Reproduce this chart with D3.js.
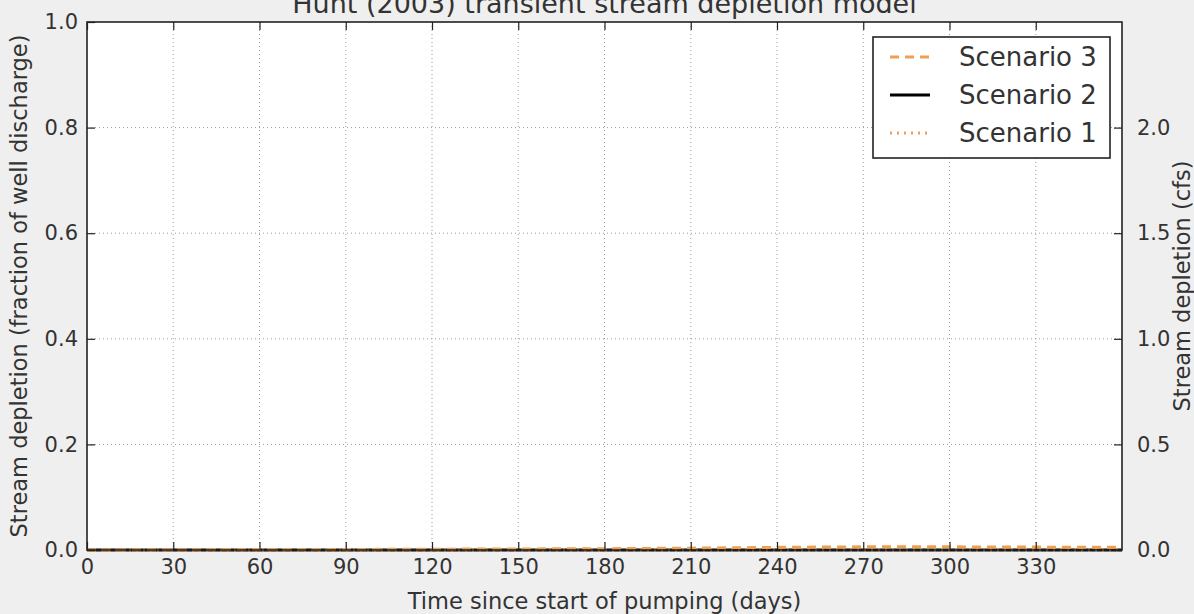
<!DOCTYPE html>
<html>
<head>
<meta charset="utf-8">
<script src="https://d3js.org/d3.v7.min.js"></script>
<style>
  body { margin: 0; background: #efefef; }
  svg { display: block; font-family: "DejaVu Sans", sans-serif; }
</style>
</head>
<body>
<div id="chart"></div>
<script>
// values (fraction of well discharge)
var days = [0, 30, 60, 90, 120, 150, 180, 210, 240, 270, 300, 330, 360];
var scenario1 = [0, 0, 0, 0, 0, 0, 0, 0, 0, 0, 0, 0, 0];
var scenario2 = [0, 0, 0, 0, 0, 0, 0, 0, 0, 0, 0, 0, 0];
var scenario3 = [0, 0.0005, 0.001, 0.001, 0.0015, 0.002, 0.0025, 0.0035, 0.005, 0.006, 0.006, 0.0055, 0.005];
var seriesNames = ["Scenario 3", "Scenario 2", "Scenario 1"];
var xTicks = [0, 30, 60, 90, 120, 150, 180, 210, 240, 270, 300, 330];
var yTicks = [0, 0.2, 0.4, 0.6, 0.8, 1.0];
var cfsTicks = [0, 0.5, 1.0, 1.5, 2.0];

var width = 1194, height = 614;
var plotLeft = 87, plotRight = 1122, plotTop = 22, plotBottom = 550;

var svg = d3.select("#chart").append("svg")
  .attr("width", width)
  .attr("height", height);

var x = d3.scaleLinear().domain([0, 360]).range([plotLeft, plotRight]);
var y = d3.scaleLinear().domain([0, 1]).range([plotBottom, plotTop]);
var y2 = d3.scaleLinear().domain([0, 2.5]).range([plotBottom, plotTop]);

// plot background
svg.append("rect")
  .attr("x", plotLeft).attr("y", plotTop)
  .attr("width", plotRight - plotLeft).attr("height", plotBottom - plotTop)
  .attr("fill", "#fff");

// grid
var grid = svg.append("g");
grid.selectAll("line.gx").data(xTicks.slice(1)).enter().append("line")
  .attr("x1", function(d) { return x(d); }).attr("x2", function(d) { return x(d); })
  .attr("y1", plotTop).attr("y2", plotBottom)
  .attr("stroke", "#9a9a9a").attr("stroke-width", 1).attr("stroke-dasharray", "1,3");
grid.selectAll("line.gy").data(yTicks.slice(1, -1)).enter().append("line")
  .attr("x1", plotLeft).attr("x2", plotRight)
  .attr("y1", function(d) { return y(d); }).attr("y2", function(d) { return y(d); })
  .attr("stroke", "#9a9a9a").attr("stroke-width", 1).attr("stroke-dasharray", "1,3");

// lines
var line = d3.line()
  .x(function(d, i) { return x(days[i]); })
  .y(function(d) { return y(d); });

var styles = {
  "Scenario 3": { data: scenario3, color: "#f0a050", dash: "9,6" },
  "Scenario 2": { data: scenario2, color: "#000", dash: null },
  "Scenario 1": { data: scenario1, color: "#f0a050", dash: "2,5" }
};

["Scenario 2", "Scenario 1", "Scenario 3"].forEach(function(name) {
  var s = styles[name];
  svg.append("path")
    .datum(s.data)
    .attr("d", line)
    .attr("fill", "none")
    .attr("stroke", s.color)
    .attr("stroke-width", 3)
    .attr("stroke-dasharray", s.dash);
});

// axes with inward ticks
function styleAxis(g) {
  g.select(".domain").remove();
  g.selectAll(".tick line").attr("stroke", "#222").attr("stroke-width", 1.2);
  g.selectAll(".tick text").attr("fill", "#333").attr("font-size", 21)
    .attr("font-family", "DejaVu Sans, sans-serif");
}

svg.append("g")
  .attr("transform", "translate(0," + plotBottom + ")")
  .call(d3.axisBottom(x).tickValues(xTicks).tickFormat(d3.format("d")).tickSize(-8).tickPadding(9))
  .call(styleAxis);

svg.append("g")
  .attr("transform", "translate(0," + plotTop + ")")
  .call(d3.axisTop(x).tickValues(xTicks).tickFormat("").tickSize(-8))
  .call(styleAxis);

svg.append("g")
  .attr("transform", "translate(" + plotLeft + ",0)")
  .call(d3.axisLeft(y).tickValues(yTicks).tickFormat(d3.format(".1f")).tickSize(-8).tickPadding(9))
  .call(styleAxis);

svg.append("g")
  .attr("transform", "translate(" + plotRight + ",0)")
  .call(d3.axisRight(y2).tickValues(cfsTicks).tickFormat(d3.format(".1f")).tickSize(-8).tickPadding(15))
  .call(styleAxis);

// frame
svg.append("rect")
  .attr("x", plotLeft).attr("y", plotTop)
  .attr("width", plotRight - plotLeft).attr("height", plotBottom - plotTop)
  .attr("fill", "none").attr("stroke", "#222").attr("stroke-width", 1.6);

// title and labels
svg.append("text")
  .attr("x", (plotLeft + plotRight) / 2).attr("y", 13)
  .attr("text-anchor", "middle").attr("font-size", 27).attr("fill", "#333")
  .text("Hunt (2003) transient stream depletion model");

svg.append("text")
  .attr("x", (plotLeft + plotRight) / 2).attr("y", 609)
  .attr("text-anchor", "middle").attr("font-size", 22.5).attr("fill", "#333")
  .text("Time since start of pumping (days)");

svg.append("text")
  .attr("transform", "translate(27," + ((plotTop + plotBottom) / 2) + ") rotate(-90)")
  .attr("text-anchor", "middle").attr("font-size", 22.5).attr("fill", "#333")
  .text("Stream depletion (fraction of well discharge)");

svg.append("text")
  .attr("transform", "translate(1190," + ((plotTop + plotBottom) / 2) + ") rotate(-90)")
  .attr("text-anchor", "middle").attr("font-size", 22.5).attr("fill", "#333")
  .text("Stream depletion (cfs)");

// legend
var legend = svg.append("g");
legend.append("rect")
  .attr("x", 873).attr("y", 37).attr("width", 237).attr("height", 121)
  .attr("fill", "#fff").attr("stroke", "#222").attr("stroke-width", 1.6);

seriesNames.forEach(function(name, i) {
  var s = styles[name];
  var cy = 57 + i * 38;
  legend.append("line")
    .attr("x1", 890).attr("x2", 930).attr("y1", cy).attr("y2", cy)
    .attr("stroke", s.color).attr("stroke-width", 3)
    .attr("stroke-dasharray", s.dash);
  legend.append("text")
    .attr("x", 959).attr("y", cy).attr("dy", "0.36em")
    .attr("font-size", 26).attr("fill", "#333")
    .text(name);
});
</script>
</body>
</html>
